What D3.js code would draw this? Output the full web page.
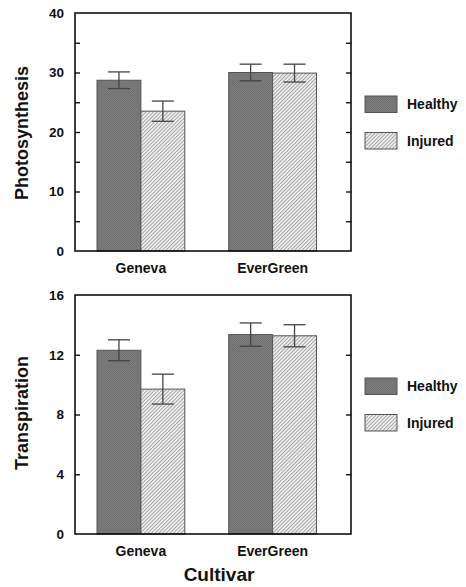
<!DOCTYPE html>
<html>
<head>
<meta charset="utf-8">
<script src="https://cdn.jsdelivr.net/npm/d3@7"></script>
<style>
  html, body { margin: 0; padding: 0; background: #fff; }
  text { font-family: "Liberation Sans", Arial, sans-serif; font-weight: bold; fill: #111; }
</style>
</head>
<body>
<script>
// ---- data ----
const cultivars = ["Geneva", "EverGreen"];
const seriesNames = ["Healthy", "Injured"];
const photoHealthy = [28.7, 30.0];
const photoHealthyErr = [1.4, 1.4];
const photoInjured = [23.5, 29.9];
const photoInjuredErr = [1.7, 1.5];
const transHealthy = [12.3, 13.35];
const transHealthyErr = [0.7, 0.78];
const transInjured = [9.7, 13.27];
const transInjuredErr = [1.0, 0.74];
const photoTickLabels = [0, 10, 20, 30, 40];
const photoTickMarks = [5, 10, 15, 20, 25, 30, 35];
const transTickLabels = [0, 4, 8, 12, 16];
const transTickMarks = [4, 8, 12];

const W = 466, H = 587;
const svg = d3.select("body").append("svg").attr("width", W).attr("height", H);

// patterns
const defs = svg.append("defs");
const ph = defs.append("pattern").attr("id", "healthyPat").attr("patternUnits", "userSpaceOnUse")
  .attr("width", 2).attr("height", 2);
ph.append("rect").attr("width", 2).attr("height", 2).attr("fill", "#7c7c7c");
ph.append("rect").attr("width", 1).attr("height", 1).attr("fill", "#707070");
ph.append("rect").attr("x", 1).attr("y", 1).attr("width", 1).attr("height", 1).attr("fill", "#727272");

const pi = defs.append("pattern").attr("id", "injuredPat").attr("patternUnits", "userSpaceOnUse")
  .attr("width", 2.6).attr("height", 2.6).attr("patternTransform", "rotate(45)");
pi.append("rect").attr("width", 2.6).attr("height", 2.6).attr("fill", "#efefef");
pi.append("line").attr("x1", 0.5).attr("y1", 0).attr("x2", 0.5).attr("y2", 2.6)
  .attr("stroke", "#a0a0a0").attr("stroke-width", 0.9);

const fills = { Healthy: "url(#healthyPat)", Injured: "url(#injuredPat)" };

const left = 75, right = 351;
const x0 = d3.scaleBand().domain(cultivars).range([97, 316.5]).paddingInner(1/3).paddingOuter(0);
const x1 = d3.scaleBand().domain(seriesNames).range([0, x0.bandwidth()]);

function panel(cfg) {
  const { top, bottom, max, tickLabels, tickMarks, title, healthy, healthyErr, injured, injuredErr, titleY } = cfg;
  const y = d3.scaleLinear().domain([0, max]).range([bottom, top]);
  const g = svg.append("g");

  const rows = [];
  cultivars.forEach((c, i) => {
    rows.push({ c, s: "Healthy", v: healthy[i], e: healthyErr[i] });
    rows.push({ c, s: "Injured", v: injured[i], e: injuredErr[i] });
  });

  // bars
  g.selectAll("rect.bar").data(rows).join("rect").attr("class", "bar")
    .attr("x", d => x0(d.c) + x1(d.s))
    .attr("width", x1.bandwidth())
    .attr("y", d => y(d.v))
    .attr("height", d => y(0) - y(d.v))
    .attr("fill", d => fills[d.s])
    .attr("stroke", "#555").attr("stroke-width", 1);

  // error bars
  const cap = 11;
  const eb = g.selectAll("g.eb").data(rows).join("g").attr("class", "eb")
    .attr("stroke", "#444").attr("stroke-width", 1.3);
  eb.append("line")
    .attr("x1", d => x0(d.c) + x1(d.s) + x1.bandwidth() / 2)
    .attr("x2", d => x0(d.c) + x1(d.s) + x1.bandwidth() / 2)
    .attr("y1", d => y(d.v - d.e)).attr("y2", d => y(d.v + d.e));
  eb.append("line")
    .attr("x1", d => x0(d.c) + x1(d.s) + x1.bandwidth() / 2 - cap)
    .attr("x2", d => x0(d.c) + x1(d.s) + x1.bandwidth() / 2 + cap)
    .attr("y1", d => y(d.v + d.e)).attr("y2", d => y(d.v + d.e));
  eb.append("line")
    .attr("x1", d => x0(d.c) + x1(d.s) + x1.bandwidth() / 2 - cap)
    .attr("x2", d => x0(d.c) + x1(d.s) + x1.bandwidth() / 2 + cap)
    .attr("y1", d => y(d.v - d.e)).attr("y2", d => y(d.v - d.e));

  // frame
  g.append("rect").attr("x", left).attr("y", top).attr("width", right - left).attr("height", bottom - top)
    .attr("fill", "none").attr("stroke", "#000").attr("stroke-width", 1.5);

  // inward tick marks
  const lt = g.append("g").attr("transform", `translate(${left},0)`)
    .call(d3.axisLeft(y).tickValues(tickMarks).tickSize(-5).tickFormat(""));
  const rt = g.append("g").attr("transform", `translate(${right},0)`)
    .call(d3.axisRight(y).tickValues(tickMarks).tickSize(-5).tickFormat(""));
  [lt, rt].forEach(a => { a.select(".domain").remove(); a.selectAll("line").attr("stroke", "#000").attr("stroke-width", 1.3); });

  // tick labels
  const lab = g.append("g").attr("transform", `translate(${left},0)`)
    .call(d3.axisLeft(y).tickValues(tickLabels).tickSize(0).tickPadding(11));
  lab.select(".domain").remove();
  lab.selectAll("text").attr("font-size", 13.5).attr("font-weight", "bold")
    .attr("font-family", "Liberation Sans, Arial, sans-serif").attr("fill", "#111");

  // category labels
  const xa = g.append("g").attr("transform", `translate(0,${bottom})`)
    .call(d3.axisBottom(x0).tickSize(0).tickPadding(12));
  xa.select(".domain").remove();
  xa.selectAll("text").attr("font-size", 14).attr("font-weight", "bold")
    .attr("font-family", "Liberation Sans, Arial, sans-serif").attr("fill", "#111");

  // y title
  g.append("text").attr("transform", `translate(28,${titleY}) rotate(-90)`)
    .attr("text-anchor", "middle").attr("font-size", 18).text(title);

  // legend
  const ly = cfg.legendY;
  seriesNames.forEach((s, i) => {
    const yy = ly + i * 36.5;
    g.append("rect").attr("x", 365).attr("y", yy).attr("width", 32).attr("height", 16.5)
      .attr("fill", fills[s]).attr("stroke", "#555").attr("stroke-width", 1);
    g.append("text").attr("x", 407).attr("y", yy + 13).attr("font-size", 14).text(s);
  });
}

panel({ top: 13, bottom: 251, max: 40, tickLabels: photoTickLabels, tickMarks: photoTickMarks,
  title: "Photosynthesis", healthy: photoHealthy, healthyErr: photoHealthyErr,
  injured: photoInjured, injuredErr: photoInjuredErr, titleY: 133, legendY: 96 });

panel({ top: 295, bottom: 534, max: 16, tickLabels: transTickLabels, tickMarks: transTickMarks,
  title: "Transpiration", healthy: transHealthy, healthyErr: transHealthyErr,
  injured: transInjured, injuredErr: transInjuredErr, titleY: 413, legendY: 378 });

svg.append("text").attr("x", 219).attr("y", 581).attr("text-anchor", "middle")
  .attr("font-size", 19).text("Cultivar");
</script>
</body>
</html>
